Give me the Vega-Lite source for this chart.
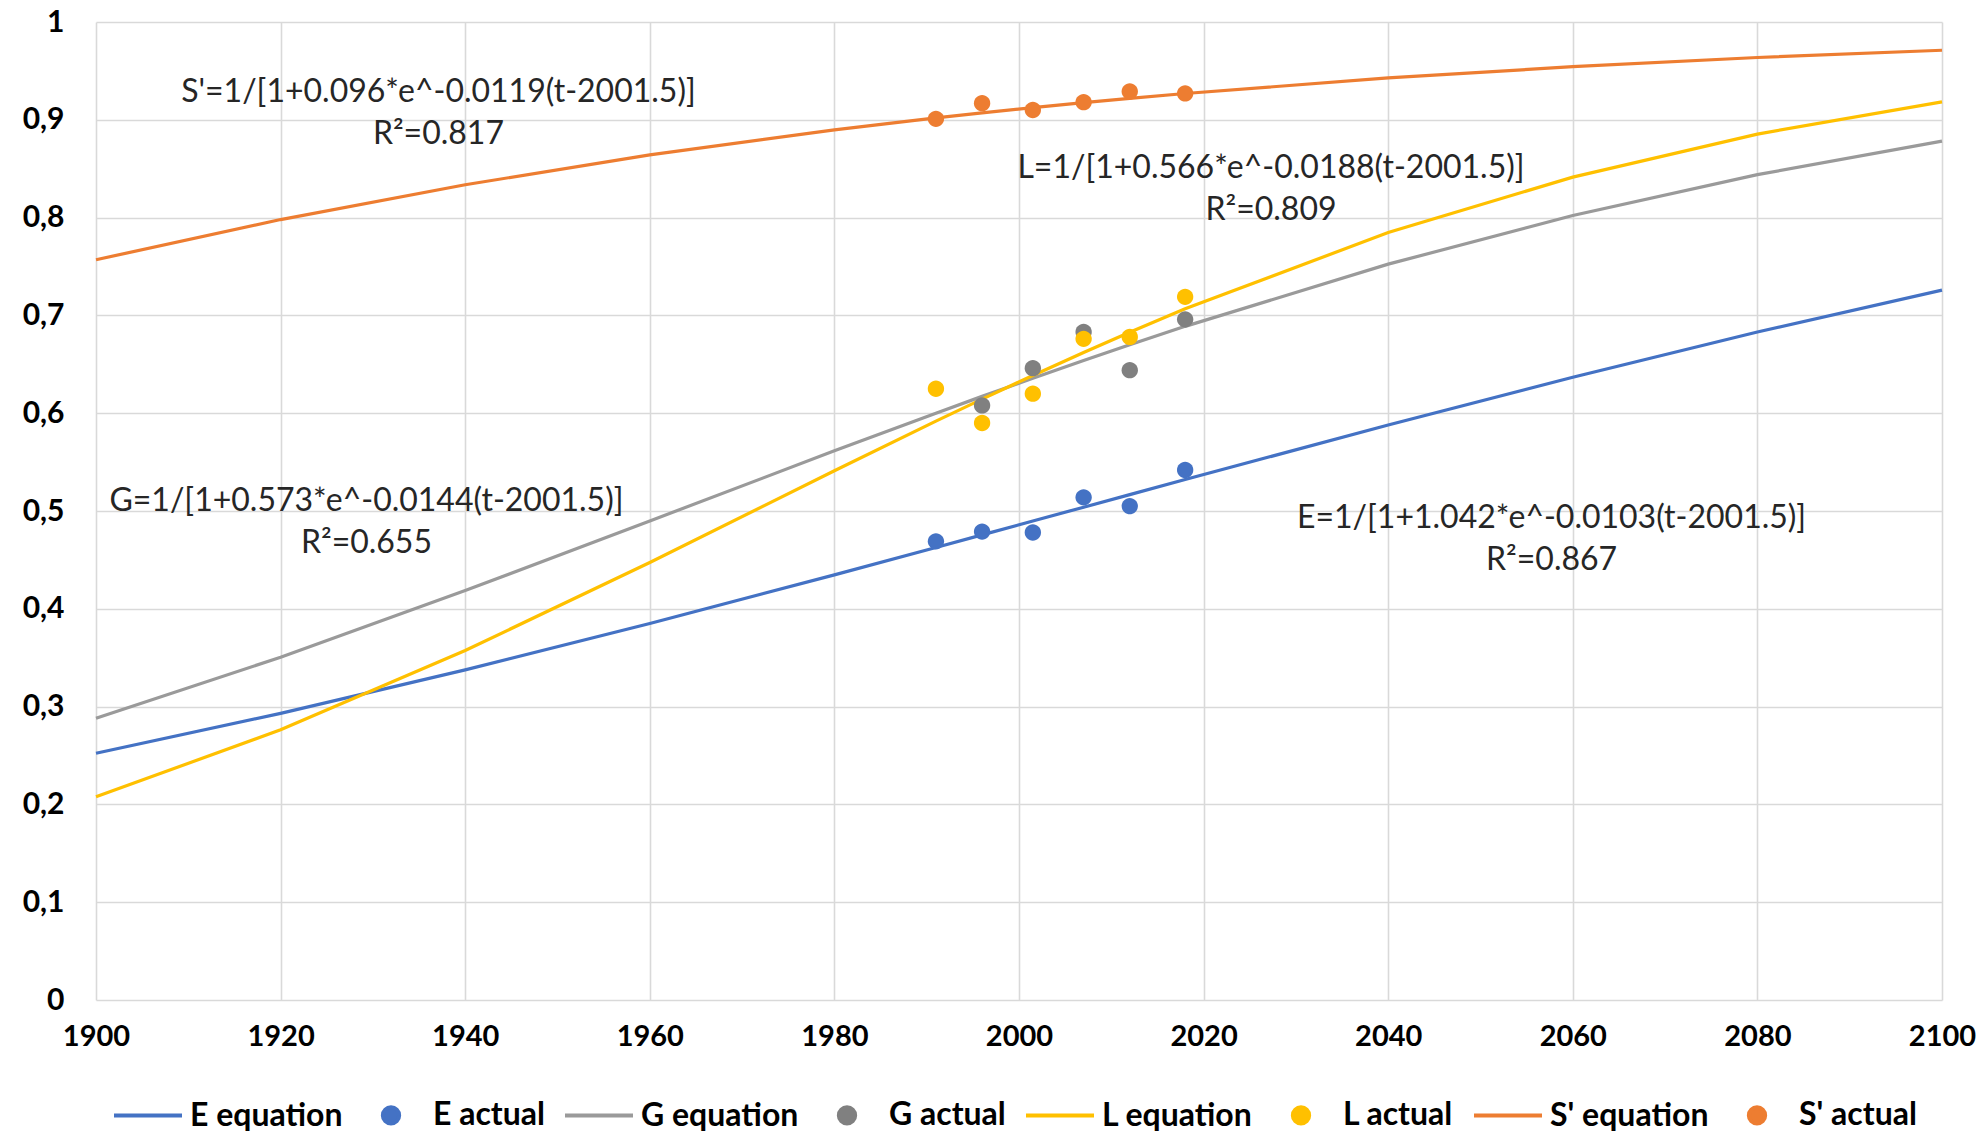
{
  "$schema": "https://vega.github.io/schema/vega-lite/v6.json",
  "width": 1846,
  "height": 978,
  "autosize": {"type": "none"},
  "padding": {"left": 96, "top": 22, "right": 43, "bottom": 133},
  "background": "white",
  "config": {"font": "Lato", "view": {"stroke": null}},
  "datasets": {
    "curves": [
      {"year": 1900, "value": 0.2523, "series": "E equation"},
      {"year": 1920, "value": 0.2931, "series": "E equation"},
      {"year": 1940, "value": 0.3375, "series": "E equation"},
      {"year": 1960, "value": 0.3850, "series": "E equation"},
      {"year": 1980, "value": 0.4347, "series": "E equation"},
      {"year": 1991, "value": 0.4627, "series": "E equation"},
      {"year": 1996, "value": 0.4756, "series": "E equation"},
      {"year": 2001.5, "value": 0.4897, "series": "E equation"},
      {"year": 2007, "value": 0.5039, "series": "E equation"},
      {"year": 2012, "value": 0.5167, "series": "E equation"},
      {"year": 2018, "value": 0.5322, "series": "E equation"},
      {"year": 2040, "value": 0.5879, "series": "E equation"},
      {"year": 2060, "value": 0.6368, "series": "E equation"},
      {"year": 2080, "value": 0.6830, "series": "E equation"},
      {"year": 2100, "value": 0.7258, "series": "E equation"},
      {"year": 1900, "value": 0.2881, "series": "G equation"},
      {"year": 1920, "value": 0.3505, "series": "G equation"},
      {"year": 1940, "value": 0.4186, "series": "G equation"},
      {"year": 1960, "value": 0.4898, "series": "G equation"},
      {"year": 1980, "value": 0.5615, "series": "G equation"},
      {"year": 1991, "value": 0.6000, "series": "G equation"},
      {"year": 1996, "value": 0.6172, "series": "G equation"},
      {"year": 2001.5, "value": 0.6357, "series": "G equation"},
      {"year": 2007, "value": 0.6539, "series": "G equation"},
      {"year": 2012, "value": 0.6700, "series": "G equation"},
      {"year": 2018, "value": 0.6888, "series": "G equation"},
      {"year": 2040, "value": 0.7524, "series": "G equation"},
      {"year": 2060, "value": 0.8021, "series": "G equation"},
      {"year": 2080, "value": 0.8439, "series": "G equation"},
      {"year": 2100, "value": 0.8782, "series": "G equation"},
      {"year": 1900, "value": 0.2077, "series": "L equation"},
      {"year": 1920, "value": 0.2763, "series": "L equation"},
      {"year": 1940, "value": 0.3573, "series": "L equation"},
      {"year": 1960, "value": 0.4474, "series": "L equation"},
      {"year": 1980, "value": 0.5411, "series": "L equation"},
      {"year": 1991, "value": 0.5919, "series": "L equation"},
      {"year": 1996, "value": 0.6144, "series": "L equation"},
      {"year": 2001.5, "value": 0.6386, "series": "L equation"},
      {"year": 2007, "value": 0.6621, "series": "L equation"},
      {"year": 2012, "value": 0.6828, "series": "L equation"},
      {"year": 2018, "value": 0.7067, "series": "L equation"},
      {"year": 2040, "value": 0.7847, "series": "L equation"},
      {"year": 2060, "value": 0.8414, "series": "L equation"},
      {"year": 2080, "value": 0.8854, "series": "L equation"},
      {"year": 2100, "value": 0.9184, "series": "L equation"},
      {"year": 1900, "value": 0.7569, "series": "S' equation"},
      {"year": 1920, "value": 0.7980, "series": "S' equation"},
      {"year": 1940, "value": 0.8336, "series": "S' equation"},
      {"year": 1960, "value": 0.8641, "series": "S' equation"},
      {"year": 1980, "value": 0.8897, "series": "S' equation"},
      {"year": 1991, "value": 0.9019, "series": "S' equation"},
      {"year": 1996, "value": 0.9070, "series": "S' equation"},
      {"year": 2001.5, "value": 0.9124, "series": "S' equation"},
      {"year": 2007, "value": 0.9175, "series": "S' equation"},
      {"year": 2012, "value": 0.9219, "series": "S' equation"},
      {"year": 2018, "value": 0.9269, "series": "S' equation"},
      {"year": 2040, "value": 0.9428, "series": "S' equation"},
      {"year": 2060, "value": 0.9543, "series": "S' equation"},
      {"year": 2080, "value": 0.9637, "series": "S' equation"},
      {"year": 2100, "value": 0.9711, "series": "S' equation"}
    ],
    "actual": [
      {"year": 1991, "value": 0.469, "series": "E actual"},
      {"year": 1996, "value": 0.479, "series": "E actual"},
      {"year": 2001.5, "value": 0.478, "series": "E actual"},
      {"year": 2007, "value": 0.514, "series": "E actual"},
      {"year": 2012, "value": 0.505, "series": "E actual"},
      {"year": 2018, "value": 0.542, "series": "E actual"},
      {"year": 1996, "value": 0.608, "series": "G actual"},
      {"year": 2001.5, "value": 0.646, "series": "G actual"},
      {"year": 2007, "value": 0.683, "series": "G actual"},
      {"year": 2012, "value": 0.644, "series": "G actual"},
      {"year": 2018, "value": 0.696, "series": "G actual"},
      {"year": 1991, "value": 0.625, "series": "L actual"},
      {"year": 1996, "value": 0.590, "series": "L actual"},
      {"year": 2001.5, "value": 0.620, "series": "L actual"},
      {"year": 2007, "value": 0.676, "series": "L actual"},
      {"year": 2012, "value": 0.678, "series": "L actual"},
      {"year": 2018, "value": 0.719, "series": "L actual"},
      {"year": 1991, "value": 0.901, "series": "S' actual"},
      {"year": 1996, "value": 0.917, "series": "S' actual"},
      {"year": 2001.5, "value": 0.910, "series": "S' actual"},
      {"year": 2007, "value": 0.918, "series": "S' actual"},
      {"year": 2012, "value": 0.929, "series": "S' actual"},
      {"year": 2018, "value": 0.927, "series": "S' actual"}
    ],
    "notes": [
      {"year": 1937.1, "value": 0.9286, "lines": ["S'=1/[1+0.096*e^-0.0119(t-2001.5)]", "R²=0.817"]},
      {"year": 2027.3, "value": 0.8507, "lines": ["L=1/[1+0.566*e^-0.0188(t-2001.5)]", "R²=0.809"]},
      {"year": 1929.3, "value": 0.5106, "lines": ["G=1/[1+0.573*e^-0.0144(t-2001.5)]", "R²=0.655"]},
      {"year": 2057.7, "value": 0.4924, "lines": ["E=1/[1+1.042*e^-0.0103(t-2001.5)]", "R²=0.867"]}
    ]
  },
  "layer": [
    {
      "data": {"name": "curves"},
      "mark": {"type": "line", "strokeWidth": 3.2},
      "encoding": {
        "x": {"field": "year", "type": "quantitative", "scale": {"domain": [1900, 2100], "nice": false},
          "axis": {"values": [1900, 1920, 1940, 1960, 1980, 2000, 2020, 2040, 2060, 2080, 2100], "format": "d", "title": null,
            "labelFont": "Lato", "labelFontSize": 29, "labelFontWeight": "bold", "labelColor": "#000000", "labelPadding": 22,
            "labelFlush": false, "ticks": false, "domain": false, "grid": true, "gridColor": "#d9d9d9", "gridWidth": 1.6}},
        "y": {"field": "value", "type": "quantitative", "scale": {"domain": [0, 1], "nice": false},
          "axis": {"values": [0, 0.1, 0.2, 0.3, 0.4, 0.5, 0.6, 0.7, 0.8, 0.9, 1], "labelExpr": "replace(format(datum.value, '~g'), '.', ',')", "title": null,
            "labelFont": "Lato", "labelFontSize": 30, "labelFontWeight": "bold", "labelColor": "#000000", "labelPadding": 32,
            "labelFlush": false, "ticks": false, "domain": false, "grid": true, "gridColor": "#d9d9d9", "gridWidth": 1.6}},
        "color": {"field": "series", "type": "nominal",
          "scale": {"domain": ["E equation", "E actual", "G equation", "G actual", "L equation", "L actual", "S' equation", "S' actual"],
            "range": ["#4472C4", "#4472C4", "#9a9a9a", "#808080", "#FFC000", "#FFC000", "#ED7D31", "#ED7D31"]},
          "legend": {"orient": "bottom", "direction": "horizontal", "title": null, "offset": 12, "padding": 16,
            "labelFont": "Lato", "labelFontSize": 32, "labelFontWeight": "bold", "labelColor": "#000000",
            "symbolSize": 4624, "symbolStrokeWidth": 4, "labelOffset": 6, "columnPadding": 12}}
      }
    },
    {
      "data": {"name": "actual"},
      "mark": {"type": "point", "filled": true, "opacity": 1, "size": 4624},
      "encoding": {
        "x": {"field": "year", "type": "quantitative"},
        "y": {"field": "value", "type": "quantitative"},
        "color": {"field": "series", "type": "nominal",
          "scale": {"domain": ["E equation", "E actual", "G equation", "G actual", "L equation", "L actual", "S' equation", "S' actual"],
            "range": ["#4472C4", "#4472C4", "#9a9a9a", "#808080", "#FFC000", "#FFC000", "#ED7D31", "#ED7D31"]}},
        "shape": {"field": "series", "type": "nominal",
          "scale": {"domain": ["E equation", "E actual", "G equation", "G actual", "L equation", "L actual", "S' equation", "S' actual"],
            "range": ["stroke", "M-0.24,0A0.24,0.24,0,1,1,0.24,0A0.24,0.24,0,1,1,-0.24,0Z", "stroke", "M-0.24,0A0.24,0.24,0,1,1,0.24,0A0.24,0.24,0,1,1,-0.24,0Z", "stroke", "M-0.24,0A0.24,0.24,0,1,1,0.24,0A0.24,0.24,0,1,1,-0.24,0Z", "stroke", "M-0.24,0A0.24,0.24,0,1,1,0.24,0A0.24,0.24,0,1,1,-0.24,0Z"]}}
      }
    },
    {
      "data": {"name": "notes"},
      "mark": {"type": "text", "font": "Lato", "fontSize": 32, "lineHeight": 42, "color": "#262626", "align": "center", "baseline": "middle"},
      "encoding": {
        "x": {"field": "year", "type": "quantitative"},
        "y": {"field": "value", "type": "quantitative"},
        "text": {"field": "lines"}
      }
    }
  ]
}
